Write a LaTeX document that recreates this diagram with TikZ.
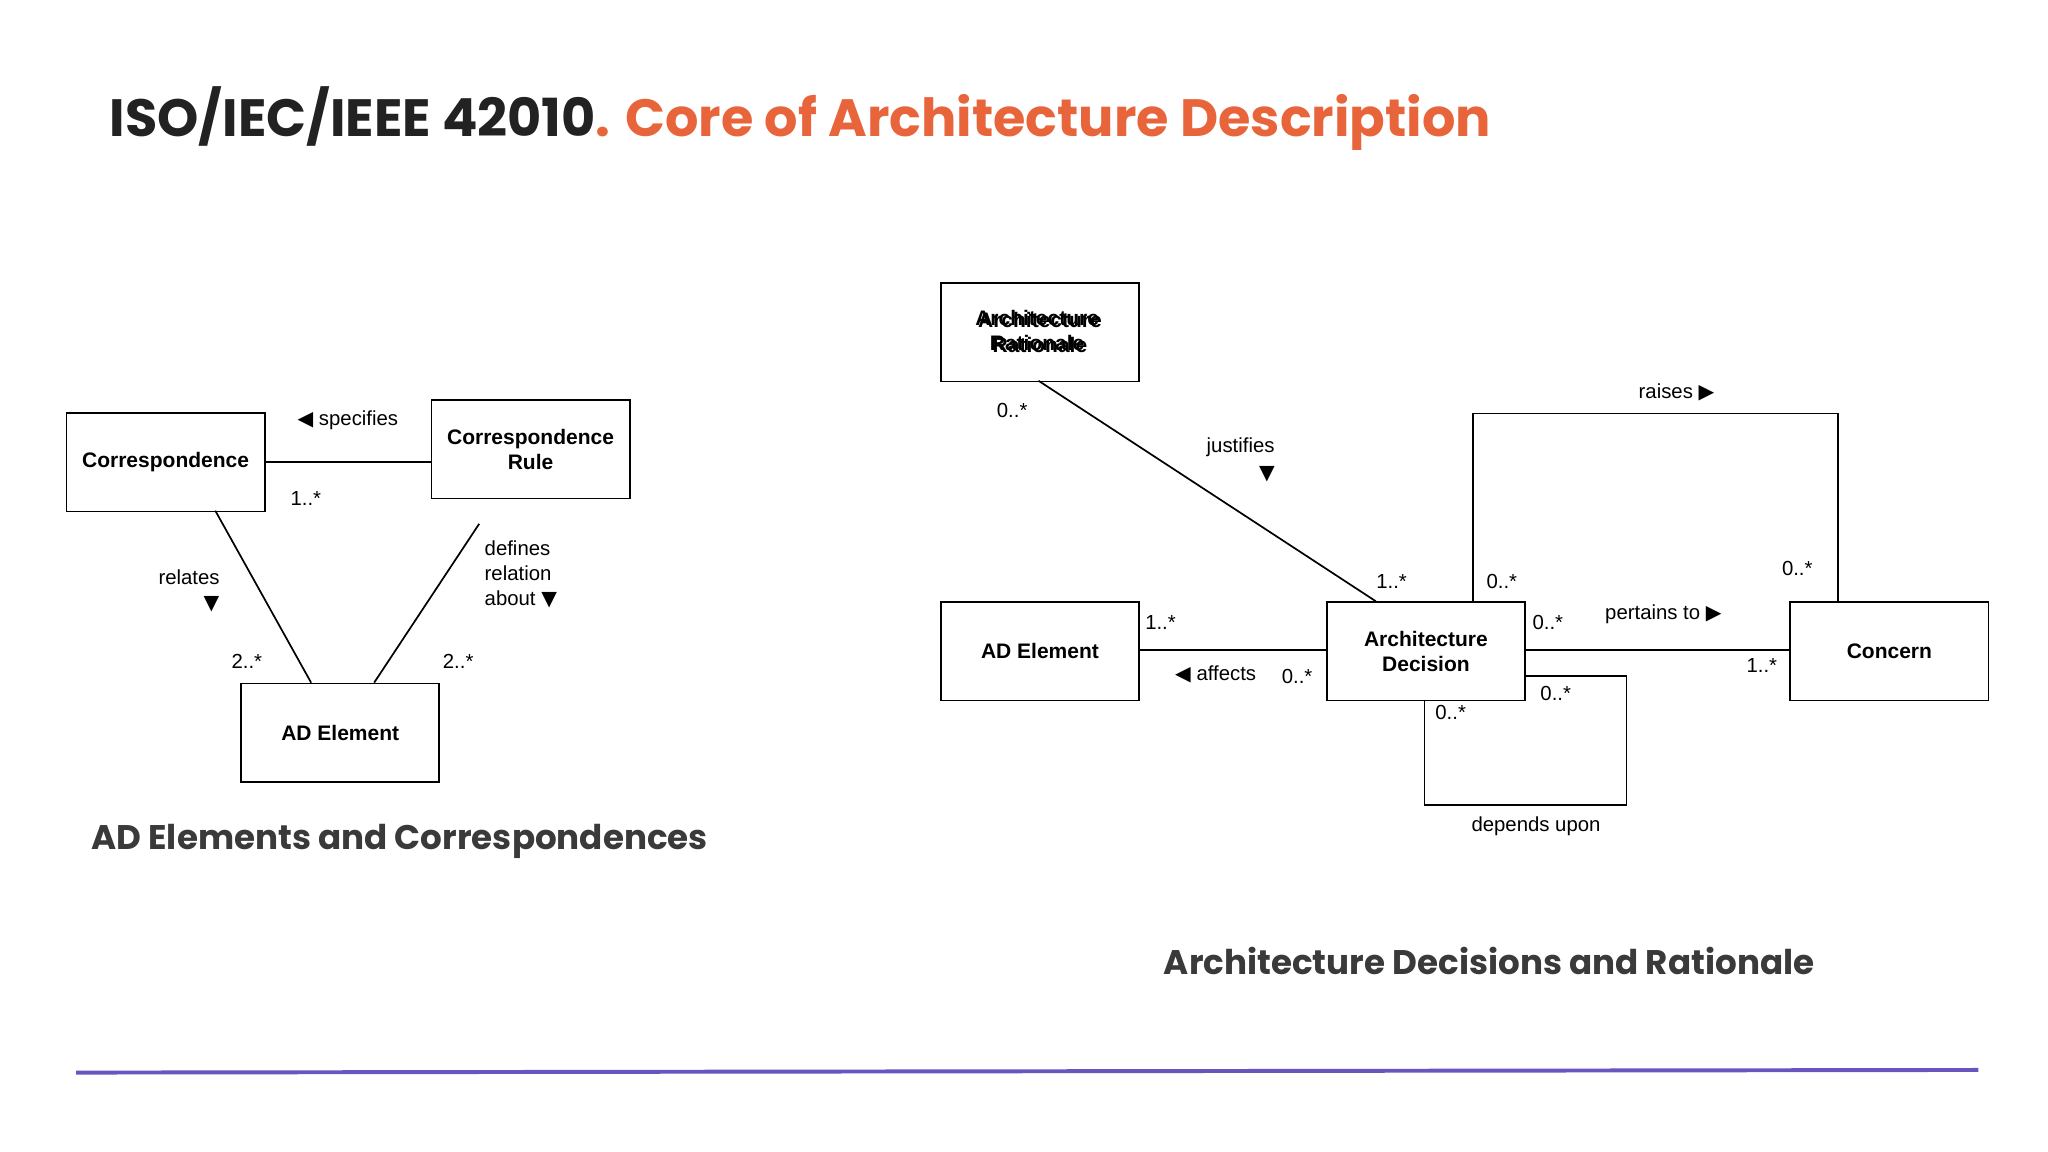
\documentclass[tikz,border=0pt]{standalone}
\usepackage{fontspec}
\setmainfont{Liberation Sans}
\newfontfamily\titlefont{Poppins}
\newfontfamily\sym{DejaVu Sans}
\definecolor{orng}{HTML}{E8643A}
\definecolor{dark}{HTML}{222222}
\definecolor{sub}{HTML}{3A3A3A}
\definecolor{purp}{HTML}{6A55C0}
\newcommand{\rt}{{\sym ▶}}
\newcommand{\lt}{{\sym ◀}}
\newcommand{\dn}{{\sym ▼}}
\begin{document}
\begin{tikzpicture}[x=1pt,y=-1pt,
  box/.style={draw,line width=1.3pt,minimum width=151pt,minimum height=75pt,align=center,font=\fontsize{16}{19}\selectfont\bfseries,anchor=north west,inner sep=0pt},
  lbl/.style={font=\fontsize{15.5}{19}\selectfont,inner sep=1pt,align=left},
  ln/.style={line width=1.3pt}]
\useasboundingbox (0,0) rectangle (1560,877.5);
\node[anchor=west,font=\fontsize{40}{44}\selectfont\titlefont\bfseries] (title) at (80,90) {\textcolor{dark}{ISO/IEC/IEEE 42010}\textcolor{orng}{. Core of Architecture Description}};
% left diagram
\node[box] (corr) at (50,314) {Correspondence};
\node[box] (rule) at (328,304) {Correspondence\\Rule};
\node[box] (ade) at (183,520) {AD Element};
\draw[ln] (corr.east |- 0,352) coordinate (c1) -- (rule.west |- 0,352) coordinate (c2);
\draw[ln] (164,389) coordinate (a1) -- (237,520) coordinate (a2);
\draw[ln] (365,399) coordinate (b1) -- (285,520) coordinate (b2);
\node[lbl] (l1) at (265,320) {\lt\ specifies};
\node[lbl] (l2) at (233,380) {1..*};
\node[lbl] (l3) at (144,440) {relates};
\node[lbl] (l3a) at (161,460) {\dn};
\node[lbl] (l4) at (188,504) {2..*};
\node[lbl] (l5) at (349,504) {2..*};
\node[lbl,anchor=north west] (l6) at (368,411) {defines\\relation\\about \dn};
\node[anchor=west,font=\fontsize{26}{30}\selectfont\titlefont\bfseries,text=sub] (s1) at (66,641) {AD Elements and Correspondences};
% right diagram
\node[box] (rat) at (716,215) {Architecture\\Rationale};
\node[box] (ade2) at (716,458) {AD Element};
\node[box] (dec) at (1010,458) {Architecture\\Decision};
\node[box] (con) at (1363,458) {Concern};
\node[font=\fontsize{16}{19}\selectfont\bfseries,align=center] at (790,252) {Architecture\\Rationale};
\draw[ln] (791,290) coordinate (r1) -- (1048,458) coordinate (r2);
\draw[ln] (ade2.east |- 0,495) -- (dec.west |- 0,495);
\draw[ln] (dec.east |- 0,495) -- (con.west |- 0,495);
\draw[ln] (1122,458) coordinate (u1) -- (1122,315) -- (1400,315) -- (1400,458) coordinate (u2);
\draw[ln] (dec.east |- 0,515) coordinate (d1) -- (1239,515) -- (1239,613) -- (1085,613) -- (1085,533) coordinate (d2);
\node[lbl] at (771,313) {0..*};
\node[lbl] at (945,341) {justifies};
\node[lbl] at (965,361) {\dn};
\node[lbl] at (1060,443) {1..*};
\node[lbl] at (1144,443) {0..*};
\node[lbl] at (1369,433) {0..*};
\node[lbl] at (1277,299) {raises \rt};
\node[lbl] at (884,474) {1..*};
\node[lbl] at (926,514) {\lt\ affects};
\node[lbl] at (988,515) {0..*};
\node[lbl] at (1179,474) {0..*};
\node[lbl] at (1267,468) {pertains to \rt};
\node[lbl] at (1342,507) {1..*};
\node[lbl] at (1185,528) {0..*};
\node[lbl] at (1105,543) {0..*};
\node[lbl] at (1170,629) {depends upon};
\node[anchor=west,font=\fontsize{26}{30}\selectfont\titlefont\bfseries,text=sub] (s2) at (883,732) {Architecture Decisions and Rationale};
\draw[line width=3pt,purp] (58,817) -- (1507,815);
\end{tikzpicture}
\end{document}
